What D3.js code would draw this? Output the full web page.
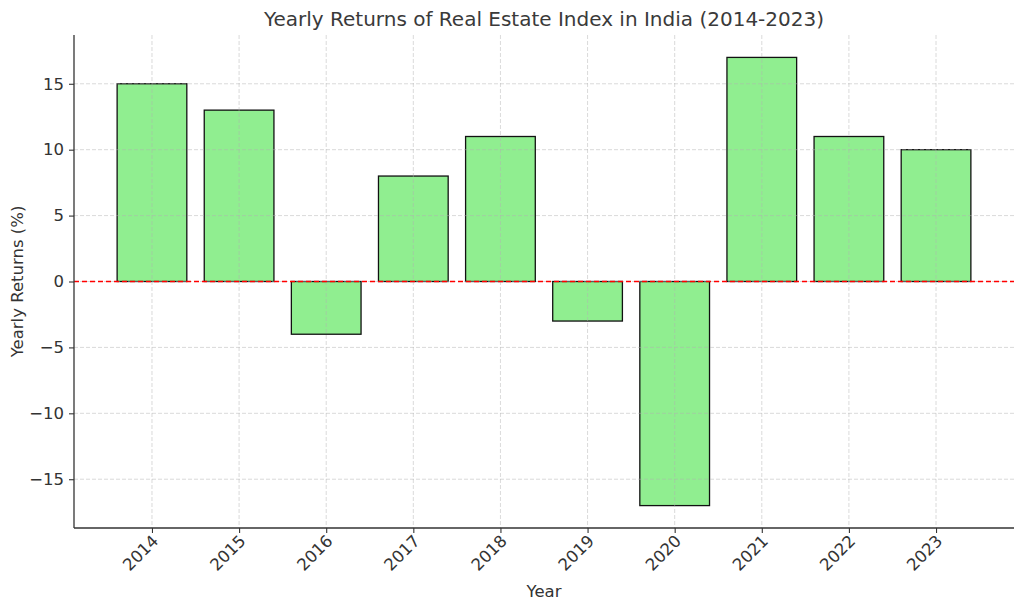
<!DOCTYPE html>
<html><head><meta charset="utf-8">
<script src="https://cdn.jsdelivr.net/npm/d3@7"></script>
<style>body{margin:0;background:#fff;} text{font-family:"DejaVu Sans",sans-serif;}</style>
</head><body>
<svg id="c" width="1024" height="611"></svg>
<script>
const years = ["2014","2015","2016","2017","2018","2019","2020","2021","2022","2023"];
const returns = [15, 13, -4, 8, 11, -3, -17, 17, 11, 10];
const yTicks = [-15, -10, -5, 0, 5, 10, 15];

const svg = d3.select("#c");
const L = 74, R = 1014, T = 35, B = 528;
const x = d3.scaleLinear().domain([-0.895, 9.895]).range([L, R]);
const y = d3.scaleLinear().domain([-18.7, 18.7]).range([B, T]);
const bw = x(0.8) - x(0);
const txt = "#333";

// bars
svg.append("g").selectAll("rect").data(returns).join("rect")
  .attr("x", (d,i) => x(i) - bw/2)
  .attr("y", d => y(Math.max(0,d)))
  .attr("width", bw)
  .attr("height", d => Math.abs(y(d) - y(0)))
  .attr("fill", "#90EE90").attr("stroke", "#111").attr("stroke-width", 1.3);

// grid
const grid = svg.append("g").attr("stroke", "#b0b0b0").attr("stroke-opacity", 0.6)
  .attr("stroke-dasharray", "4,2").attr("stroke-width", 0.8);
grid.selectAll("line.v").data(years).join("line").attr("class","v")
  .attr("x1", (d,i) => x(i)).attr("x2", (d,i) => x(i)).attr("y1", T).attr("y2", B);
grid.selectAll("line.h").data(yTicks).join("line").attr("class","h")
  .attr("x1", L).attr("x2", R).attr("y1", d => y(d)).attr("y2", d => y(d));

// zero line
svg.append("line").attr("x1", L).attr("x2", R).attr("y1", y(0)).attr("y2", y(0))
  .attr("stroke", "red").attr("stroke-width", 1.3).attr("stroke-dasharray", "5,3");

// axes
const yAxis = d3.axisLeft(y).tickValues(yTicks).tickSize(5).tickPadding(5)
  .tickFormat(d => d < 0 ? "\u2212" + Math.abs(d) : d);
const gy = svg.append("g").attr("transform", `translate(${L},0)`).call(yAxis);
gy.select(".domain").attr("d", `M0,${T}V${B}`);
const xAxis = d3.axisBottom(x).tickValues(d3.range(years.length)).tickSize(5).tickFormat(i => years[i]);
const gx = svg.append("g").attr("transform", `translate(0,${B})`).call(xAxis);
gx.select(".domain").attr("d", `M${L},0H${R}`);
[gx, gy].forEach(g => {
  g.selectAll(".domain").attr("stroke", txt).attr("stroke-width", 1.3);
  g.selectAll(".tick line").attr("stroke", txt).attr("stroke-width", 1.1);
  g.selectAll("text").attr("fill", txt).style("font-size", "16.5px");
});
gx.selectAll("text").attr("text-anchor", "end").attr("dy", null).attr("y", 0)
  .attr("transform", "translate(7,14) rotate(-45)");

// labels
svg.append("text").attr("x", (L+R)/2).attr("y", 26).attr("text-anchor", "middle")
  .attr("fill", "#3a3a3a").style("font-size", "20px").text("Yearly Returns of Real Estate Index in India (2014-2023)");
svg.append("text").attr("x", (L+R)/2).attr("y", 597).attr("text-anchor", "middle")
  .attr("fill", txt).style("font-size", "16.5px").text("Year");
svg.append("text").attr("transform", `translate(23,${(T+B)/2}) rotate(-90)`).attr("text-anchor", "middle")
  .attr("fill", txt).style("font-size", "16.5px").text("Yearly Returns (%)");
</script>
</body></html>
